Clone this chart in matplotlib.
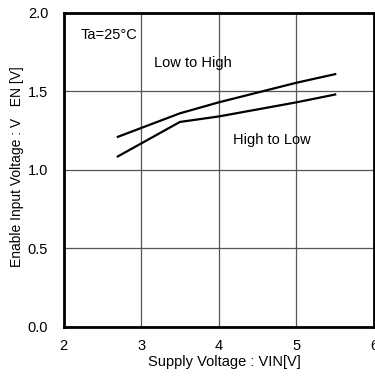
import matplotlib
matplotlib.use("Agg")
import matplotlib.pyplot as plt

plt.rcParams['font.family'] = ['Liberation Sans', 'DejaVu Sans']

vin_lh = [2.7, 3.5, 4.0, 5.0, 5.5]
ven_lh = [1.21, 1.36, 1.43, 1.555, 1.61]
vin_hl = [2.7, 3.5, 4.0, 5.0, 5.5]
ven_hl = [1.085, 1.305, 1.34, 1.43, 1.48]

xticks = [2, 3, 4, 5, 6]
yticks = [0.0, 0.5, 1.0, 1.5, 2.0]

fig = plt.figure(figsize=(3.75, 3.76), dpi=100)
ax = fig.add_axes([63.5/375, 1-326.5/376, (374-63.5)/375, (326.5-13)/376])

ax.plot(vin_lh, ven_lh, color='black', lw=1.6, zorder=3)
ax.plot(vin_hl, ven_hl, color='black', lw=1.6, zorder=3)

ax.set_xlim(2, 6)
ax.set_ylim(0, 2)
ax.set_xticks(xticks)
ax.set_xticklabels([str(t) for t in xticks])
ax.set_yticks(yticks)
ax.set_yticklabels([f"{t:.1f}" for t in yticks])
ax.grid(True, color='#555555', lw=0.9)
ax.set_axisbelow(True)
ax.tick_params(length=0, labelsize=10.5)
ax.tick_params(axis='x', pad=9)
ax.tick_params(axis='y', pad=11)
for s in ax.spines.values():
    s.set_linewidth(2)

ax.set_xlabel('Supply Voltage : VIN[V]', fontsize=10.5, va='center')
ax.xaxis.set_label_coords(0.517, -0.113)
ax.set_ylabel('Enable Input Voltage : V   EN [V]', fontsize=10, va='center')
ax.yaxis.set_label_coords(-0.150, 0.51)

ax.text(2.22, 1.86, 'Ta=25°C', fontsize=10.5, va='center', ha='left')
ax.text(3.16, 1.68, 'Low to High', fontsize=10.5, va='center', ha='left')
ax.text(4.19, 1.19, 'High to Low', fontsize=10.5, va='center', ha='left')

fig.savefig('out.png', dpi=100)
